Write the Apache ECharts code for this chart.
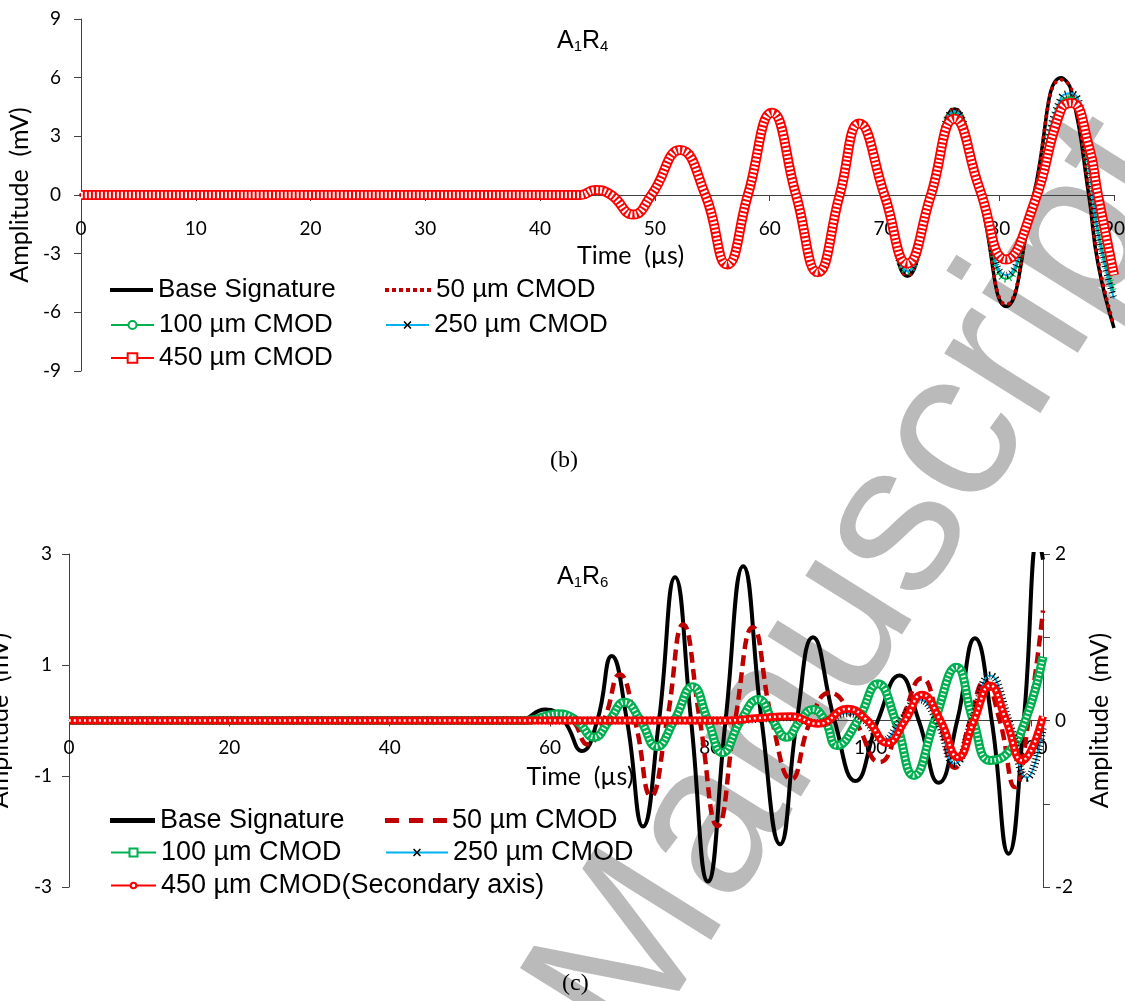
<!DOCTYPE html>
<html>
<head>
<meta charset="utf-8">
<script src="https://cdn.jsdelivr.net/npm/echarts@6/dist/echarts.min.js"></script>
<style>
  body { margin: 0; background: #fff; }
  #wrap { position: relative; width: 1125px; height: 1001px; overflow: hidden; }
  #mark {
    position: absolute; left: 850px; top: 578px;
    transform: translate(-50%, -50%) rotate(-58deg);
    font-family: "Liberation Sans"; font-size: 214px; line-height: 1;
    color: #bababa; white-space: nowrap; z-index: 0;
  }
  .chart { position: absolute; left: 0; width: 1125px; z-index: 1; }
</style>
</head>
<body>
<div id="wrap">
  <div id="mark">Manuscript</div>
  <div id="chartB" class="chart" style="top:0;height:500px"></div>
  <div id="chartC" class="chart" style="top:500px;height:501px"></div>
</div>
<script>
// ---- (b) A1R4 : peaks, troughs and zero crossings ----
const timeR4 = [0, 43.5, 44.8, 46.2, 48.1, 49.7, 52.2, 54.4, 56.3, 58.1, 60.2, 62.3, 64.2, 66.1, 67.8, 70.0, 72.0, 74.0, 76.1, 78.3, 80.6, 83.0, 85.4, 86.3, 87.8, 88.6, 90];
const baseR4 = [0, 0, 0.25, 0, -1.0, 0, 2.35, 0, -3.6, 0, 4.25, 0, -4.05, 0, 3.7, 0, -4.15, 0, 4.4, 0, -5.7, 0, 6.0, 5.3, 0, -3.5, -6.8];
const cmod50R4 = [0, 0, 0.25, 0, -1.0, 0, 2.35, 0, -3.6, 0, 4.25, 0, -4.05, 0, 3.7, 0, -4.1, 0, 4.4, 0, -5.6, 0, 5.9, 5.4, 0.3, -3.3, -6.7];
const cmod100R4 = [0, 0, 0.25, 0, -1.0, 0, 2.3, 0, -3.6, 0, 4.2, 0, -4.05, 0, 3.7, 0, -3.9, 0.1, 4.2, 0.2, -4.3, -0.3, 4.8, 5.0, 1.5, -1.8, -5.0];
const cmod250R4 = [0, 0, 0.25, 0, -1.0, 0, 2.3, 0, -3.6, 0, 4.2, 0, -4.0, 0, 3.7, 0, -3.9, 0.1, 4.3, 0.2, -4.1, -0.3, 5.0, 5.2, 1.4, -2.0, -5.3];
const cmod450R4 = [0, 0, 0.25, 0, -1.0, 0, 2.3, 0, -3.55, 0, 4.2, 0, -3.95, 0, 3.65, 0, -3.5, -0.1, 3.9, 0.3, -3.3, -0.5, 4.4, 4.7, 2.5, 0, -4.1];

// ---- (c) A1R6 ----
const baseT6 = [0, 56, 59.4, 61.7, 64.0, 65.9, 67.7, 69.6, 71.6, 73.6, 75.6, 77.6, 79.7, 81.9, 84.1, 86.4, 88.7, 90.8, 92.8, 95.5, 98.1, 100.9, 103.6, 106.0, 108.5, 110.8, 113.0, 115.1, 117.2, 119.1, 120.9, 121.5];
const baseR6 = [0, 0, 0.2, 0, -0.55, 0, 1.16, 0, -1.91, 0, 2.58, 0, -2.9, 0, 2.78, 0, -2.23, 0, 1.5, 0, -1.09, 0, 0.81, 0, -1.12, 0, 1.48, 0, -2.4, 0, 3.3, 2.9];
const cmod50T6 = [0, 57.5, 60.8, 62.8, 64.7, 66.7, 68.7, 70.6, 72.6, 74.6, 76.6, 78.7, 80.9, 83.1, 85.3, 87.7, 90.1, 92.5, 94.9, 98.0, 101.1, 103.8, 106.4, 108.5, 110.5, 112.4, 114.2, 116.1, 118.0, 119.7, 121.5];
const cmod50R6 = [0, 0, 0.14, 0, -0.43, 0, 0.83, 0, -1.36, 0, 1.73, 0, -1.9, 0, 1.68, 0, -1.06, 0, 0.5, 0, -0.75, 0, 0.76, 0, -0.85, 0, 0.7, 0, -1.2, 0, 1.98];
const cmod100T6 = [0, 57, 61.0, 63.3, 65.5, 67.4, 69.3, 71.3, 73.3, 75.5, 77.8, 79.7, 81.5, 83.8, 86.0, 87.8, 89.5, 91.2, 92.8, 94.3, 95.8, 98.4, 100.9, 103.1, 105.4, 108.0, 110.7, 112.8, 114.9, 117.0, 119.3, 121.5];
const cmod100R6 = [0, 0, 0.12, 0, -0.3, 0, 0.33, 0, -0.47, 0, 0.61, 0, -0.58, 0, 0.38, 0, -0.3, 0, 0.2, 0, -0.45, 0, 0.66, 0, -0.99, 0, 0.96, 0, -0.72, -0.6, 0, 1.15];
const cmod250T6 = [0, 82, 86, 90, 93.5, 97.1, 99.3, 101.5, 103.8, 106.0, 108.3, 110.5, 112.7, 114.9, 117.2, 119.5, 121.5];
const cmod250R6 = [0, 0, 0.03, 0.06, -0.05, 0.13, 0, -0.36, 0, 0.38, 0, -0.78, 0, 0.81, 0, -1.03, -0.1];
const cmod450T6 = [0, 82, 86, 90, 93.5, 97.1, 99.6, 102.1, 104.3, 106.4, 108.7, 110.9, 112.9, 114.9, 116.9, 118.9, 121.5];
const cmod450R6 = [0, 0, 0.03, 0.05, -0.04, 0.14, 0, -0.27, 0, 0.31, 0, -0.44, 0, 0.42, 0, -0.48, 0.05]; // secondary axis

const ticksC = [0, 20, 40, 60, 80, 100, 120];

function zip(t, v) {
  return t.map(function (x, i) { return [x, v[i]]; });
}

const xMark = 'path://M0,1.4L1.4,0L5,3.6L8.6,0L10,1.4L6.4,5L10,8.6L8.6,10L5,6.4L1.4,10L0,8.6L3.6,5Z';
const dotsIcon = 'path://M0,0h4v4h-4zM7,0h4v4h-4zM14,0h4v4h-4zM21,0h4v4h-4zM28,0h4v4h-4zM35,0h4v4h-4zM42,0h4v4h-4z';
const dashIcon = 'path://M0,0h14v5h-14zM24,0h14v5h-14zM48,0h14v5h-14z';

const tickFont = { fontFamily: 'Lato', fontSize: 19, color: '#000' };
const nameFont = { fontFamily: 'Lato', fontSize: 25, color: '#000' };

function legendItem(item, left, top, extra) {
  return Object.assign({
    data: [item], left: left, top: top, padding: 0, selectedMode: false,
    itemWidth: 43, itemHeight: 10,
    lineStyle: { width: 2 },
    textStyle: { fontFamily: 'Liberation Sans', fontSize: 26, color: '#000' }
  }, extra || {});
}

function line(name, data, color, width, more) {
  return Object.assign({
    name: name, type: 'line', data: data, smooth: true, symbol: 'none',
    lineStyle: { color: color, width: width }, itemStyle: { color: color },
    emphasis: { disabled: true }
  }, more || {});
}

// ---------------- chart (b) ----------------
// grid bottom is at 371px, the zero line at 194.5px: the x axis is lifted onto y = 0
const chartB = echarts.init(document.getElementById('chartB'));
chartB.setOption({
  animation: false,
  title: {
    text: 'A{s|1}R{s|4}', left: 552, top: 24,
    textStyle: {
      fontFamily: 'Liberation Sans', fontSize: 25, fontWeight: 'normal', color: '#000',
      rich: { s: { fontFamily: 'Liberation Sans', fontSize: 15, color: '#000', padding: [10, 0, 0, 0] } }
    }
  },
  graphic: [{ type: 'text', left: 550, top: 449, style: { text: '(b)', font: '24px "Liberation Serif"', fill: '#000' } }],
  grid: { left: 81, right: 11, top: 19, height: 352, outerBoundsMode: 'none' },
  xAxis: {
    type: 'value', min: 0, max: 90, interval: 10, offset: -176,
    name: 'Time  (µs)', nameLocation: 'middle', nameGap: 48,
    nameTextStyle: Object.assign({ padding: [0, 0, 0, 66] }, nameFont),
    axisLine: { onZero: false, lineStyle: { color: '#404040' } },
    axisTick: { length: 6, lineStyle: { color: '#404040' } },
    axisLabel: Object.assign({ margin: 24 }, tickFont),
    splitLine: { show: false }
  },
  yAxis: {
    type: 'value', min: -9, max: 9, interval: 3,
    name: 'Amplitude  (mV)', nameLocation: 'middle', nameGap: 36, nameTextStyle: nameFont,
    axisLine: { show: true, lineStyle: { color: '#404040' } },
    axisTick: { show: true, length: 7, lineStyle: { color: '#404040' } },
    axisLabel: Object.assign({ margin: 20 }, tickFont),
    splitLine: { show: false }
  },
  legend: [
    legendItem({ name: 'Base Signature', icon: 'rect' }, 110, 277, { itemHeight: 4 }),
    legendItem({ name: '50 µm CMOD', icon: dotsIcon }, 385, 277, { itemWidth: 46, itemHeight: 4 }),
    legendItem('100 µm CMOD', 110, 312),
    legendItem('250 µm CMOD', 385, 312),
    legendItem('450 µm CMOD', 110, 345, { itemHeight: 12 })
  ],
  series: [
    line('Base Signature', zip(timeR4, baseR4), '#000', 3.5),
    line('50 µm CMOD', zip(timeR4, cmod50R4), '#c00000', 4, {
      lineStyle: { color: '#c00000', width: 4, type: [0.1, 7], cap: 'round' }
    }),
    line('100 µm CMOD', zip(timeR4, cmod100R4), '#00b050', 2, { symbol: 'emptyCircle', showSymbol: false }),
    line('100 marks', zip(timeR4, cmod100R4), '#00b050', 7, {
      silent: true, lineStyle: { color: '#00b050', width: 7, type: [1, 3.5] }
    }),
    line('250 µm CMOD', zip(timeR4, cmod250R4), '#00b0f0', 2, {
      symbol: xMark, showSymbol: false, itemStyle: { color: '#000' }
    }),
    line('250 marks', zip(timeR4, cmod250R4), '#000', 7, {
      silent: true, lineStyle: { color: '#000', width: 7, type: [1, 3.5] }
    }),
    line('450 µm CMOD', zip(timeR4, cmod450R4), '#ff0000', 10, { symbol: 'emptyRect', showSymbol: false }),
    line('450 marks', zip(timeR4, cmod450R4), '#fff', 6.5, {
      silent: true, lineStyle: { color: '#fff', width: 6.5, type: [2, 2] }
    })
  ]
});

// ---------------- chart (c) ----------------
// grid bottom at 387px, zero line at 220.5px
const chartC = echarts.init(document.getElementById('chartC'));
chartC.setOption({
  animation: false,
  title: {
    text: 'A{s|1}R{s|6}', left: 552, top: 60,
    textStyle: {
      fontFamily: 'Liberation Sans', fontSize: 25, fontWeight: 'normal', color: '#000',
      rich: { s: { fontFamily: 'Liberation Sans', fontSize: 15, color: '#000', padding: [10, 0, 0, 0] } }
    }
  },
  graphic: [{ type: 'text', left: 562, top: 472, style: { text: '(c)', font: '24px "Liberation Serif"', fill: '#000' } }],
  grid: { left: 69, right: 82, top: 54, height: 333, outerBoundsMode: 'none' },
  xAxis: {
    type: 'value', min: 0, max: 121.5, offset: -166.5,
    name: 'Time  (µs)', nameLocation: 'middle', nameGap: 44,
    nameTextStyle: Object.assign({ padding: [0, 0, 0, 48] }, nameFont),
    axisLine: { onZero: false, lineStyle: { color: '#404040' } },
    axisTick: { length: 6, customValues: ticksC, lineStyle: { color: '#404040' } },
    axisLabel: Object.assign({ margin: 18, customValues: ticksC }, tickFont),
    splitLine: { show: false }
  },
  yAxis: [{
    type: 'value', min: -3, max: 3, interval: 2,
    name: 'Amplitude  (mV)', nameLocation: 'middle', nameGap: 57, nameTextStyle: nameFont,
    axisLine: { show: true, onZero: false, lineStyle: { color: '#404040' } },
    axisTick: { show: true, length: 7, lineStyle: { color: '#404040' } },
    axisLabel: Object.assign({ margin: 17 }, tickFont),
    splitLine: { show: false }
  }, {
    type: 'value', min: -2, max: 2, interval: 1, position: 'right',
    name: 'Amplitude  (mV)', nameLocation: 'middle', nameGap: 44, nameTextStyle: nameFont,
    axisLine: { show: true, onZero: false, lineStyle: { color: '#404040' } },
    axisTick: { show: true, length: 7, lineStyle: { color: '#404040' } },
    axisLabel: Object.assign({
      margin: 12,
      formatter: function (v) { return v % 2 === 0 ? String(v) : ''; }
    }, tickFont),
    splitLine: { show: false }
  }],
  legend: [
    legendItem({ name: 'Base Signature', icon: 'rect' }, 110, 307, { itemWidth: 45, itemHeight: 5, textStyle: { fontFamily: 'Liberation Sans', fontSize: 27, color: '#000' } }),
    legendItem({ name: '50 µm CMOD', icon: dashIcon }, 385, 307, { itemWidth: 62, itemHeight: 5, textStyle: { fontFamily: 'Liberation Sans', fontSize: 27, color: '#000' } }),
    legendItem('100 µm CMOD', 110, 339, { itemWidth: 45, textStyle: { fontFamily: 'Liberation Sans', fontSize: 27, color: '#000' } }),
    legendItem('250 µm CMOD', 385, 339, { itemWidth: 62, textStyle: { fontFamily: 'Liberation Sans', fontSize: 27, color: '#000' } }),
    legendItem('450 µm CMOD', 110, 372, {
      itemWidth: 45, itemHeight: 7,
      formatter: function (n) { return n + '(Secondary axis)'; },
      textStyle: { fontFamily: 'Liberation Sans', fontSize: 27, color: '#000' }
    })
  ],
  series: [
    line('Base Signature', zip(baseT6, baseR6), '#000', 4),
    line('50 µm CMOD', zip(cmod50T6, cmod50R6), '#c00000', 4.5, {
      lineStyle: { color: '#c00000', width: 4.5, type: [11, 6] }
    }),
    line('100 µm CMOD', zip(cmod100T6, cmod100R6), '#00b050', 9, { symbol: 'emptyRect', showSymbol: false }),
    line('100 marks', zip(cmod100T6, cmod100R6), '#fff', 4.5, {
      silent: true, lineStyle: { color: '#fff', width: 4.5, type: [1.5, 2.5] }
    }),
    line('250 µm CMOD', zip(cmod250T6, cmod250R6), '#00b0f0', 2, {
      symbol: xMark, showSymbol: false, itemStyle: { color: '#000' }
    }),
    line('250 marks', zip(cmod250T6, cmod250R6), '#000', 8, {
      silent: true, lineStyle: { color: '#000', width: 8, type: [1, 2.5] }
    }),
    line('450 µm CMOD', zip(cmod450T6, cmod450R6), '#ff0000', 8, {
      yAxisIndex: 1, symbol: 'emptyCircle', showSymbol: false
    }),
    line('450 marks', zip(cmod450T6, cmod450R6), '#fff', 2.5, {
      yAxisIndex: 1, silent: true, lineStyle: { color: '#fff', width: 2.5, type: [2, 3] }
    })
  ]
});
</script>
</body>
</html>
